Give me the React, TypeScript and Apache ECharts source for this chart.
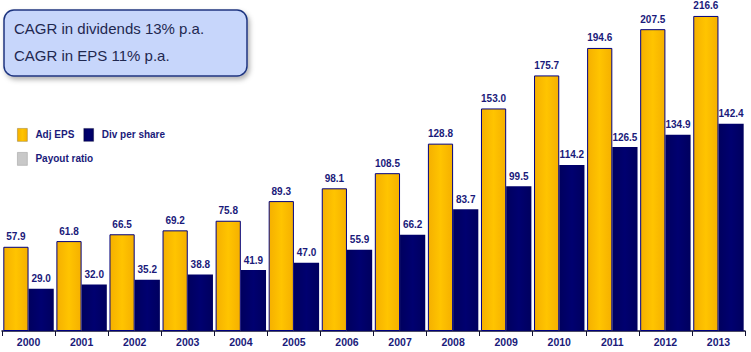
import React, { useEffect, useRef } from "react";
import * as echarts from "echarts";

const years = ["2000","2001","2002","2003","2004","2005","2006","2007","2008","2009","2010","2011","2012","2013"];
const adjEps = [57.9, 61.8, 66.5, 69.2, 75.8, 89.3, 98.1, 108.5, 128.8, 153.0, 175.7, 194.6, 207.5, 216.6];
const divPerShare = [29.0, 32.0, 35.2, 38.8, 41.9, 47.0, 55.9, 66.2, 83.7, 99.5, 114.2, 126.5, 134.9, 142.4];
const boxLines = ["CAGR in dividends 13% p.a.", "CAGR in EPS 11% p.a."];

const NAVY = "#1a1a7a";

export default function App() {
  const ref = useRef<HTMLDivElement>(null);
  useEffect(() => {
    const chart = echarts.init(ref.current!, null, { renderer: "svg" });
    const labelStyle = {
      show: true,
      position: "top" as const,
      distance: 5,
      color: NAVY,
      fontFamily: "Liberation Sans",
      fontWeight: "bold" as const,
      fontSize: 10,
      formatter: (p: any) => Number(p.value).toFixed(1),
    };
    const legendText = {
      color: NAVY,
      fontFamily: "Liberation Sans",
      fontWeight: "bold" as const,
      fontSize: 10,
      padding: [0, 0, 2, 3],
    };
    chart.setOption({
      animation: false,
      backgroundColor: "#ffffff",
      grid: { left: 2, right: 6, top: 11, bottom: 21, containLabel: false },
      legend: [
        {
          data: ["Adj EPS", "Div per share"],
          left: 17,
          top: 128,
          padding: 0,
          itemWidth: 10,
          itemHeight: 13,
          itemGap: 9,
          icon: "rect",
          itemStyle: { borderWidth: 0.8, borderColor: "rgba(0,0,0,0.25)" },
          textStyle: legendText,
          selectedMode: false,
        },
        {
          data: ["Payout ratio"],
          left: 17,
          top: 152,
          padding: 0,
          itemWidth: 10,
          itemHeight: 13,
          icon: "rect",
          itemStyle: { borderWidth: 0.8, borderColor: "rgba(0,0,0,0.2)" },
          textStyle: legendText,
          selectedMode: false,
        },
      ],
      xAxis: {
        type: "category",
        data: years,
        axisLine: { lineStyle: { color: "#111133", width: 1.5 } },
        axisTick: { show: true, length: 5, lineStyle: { color: "#111133" } },
        axisLabel: { color: NAVY, fontFamily: "Liberation Sans", fontWeight: "bold", fontSize: 10.5, margin: 5 },
      },
      yAxis: { type: "value", min: 0, max: 220, show: false, splitLine: { show: false } },
      series: [
        {
          name: "Adj EPS",
          type: "bar",
          data: adjEps,
          barGap: "0%",
          barCategoryGap: "5%",
          itemStyle: {
            color: new echarts.graphic.LinearGradient(0, 0, 1, 0, [
              { offset: 0, color: "#F5B000" },
              { offset: 0.5, color: "#FFC400" },
              { offset: 1, color: "#F5B000" },
            ]),
            borderColor: "#000080",
            borderWidth: 1,
          },
          label: labelStyle,
        },
        {
          name: "Div per share",
          type: "bar",
          data: divPerShare,
          itemStyle: {
            color: new echarts.graphic.LinearGradient(0, 0, 1, 0, [
              { offset: 0, color: "#00005E" },
              { offset: 0.5, color: "#000070" },
              { offset: 1, color: "#00005E" },
            ]),
          },
          label: labelStyle,
        },
        {
          name: "Payout ratio",
          type: "line",
          data: [],
          itemStyle: { color: "#C8C8C8" },
          lineStyle: { color: "#C8C8C8" },
        },
      ],
      graphic: [
        {
          type: "rect",
          shape: { x: 4, y: 10, width: 243, height: 66, r: 10 },
          style: {
            fill: "#C7D6FB",
            stroke: "#1F3580",
            lineWidth: 1.5,
            shadowBlur: 5,
            shadowOffsetX: 2,
            shadowOffsetY: 3,
            shadowColor: "rgba(0,0,0,0.3)",
          },
        },
        {
          type: "text",
          x: 14,
          y: 21,
          style: { text: boxLines[0], fill: "#1F2850", font: "15px 'Liberation Sans'" },
        },
        {
          type: "text",
          x: 14,
          y: 48,
          style: { text: boxLines[1], fill: "#1F2850", font: "15px 'Liberation Sans'" },
        },
      ],
    });
    return () => chart.dispose();
  }, []);
  return (
    <div
      ref={ref}
      style={{ position: "fixed", left: 0, top: 0, width: 751, height: 352 }}
    />
  );
}
